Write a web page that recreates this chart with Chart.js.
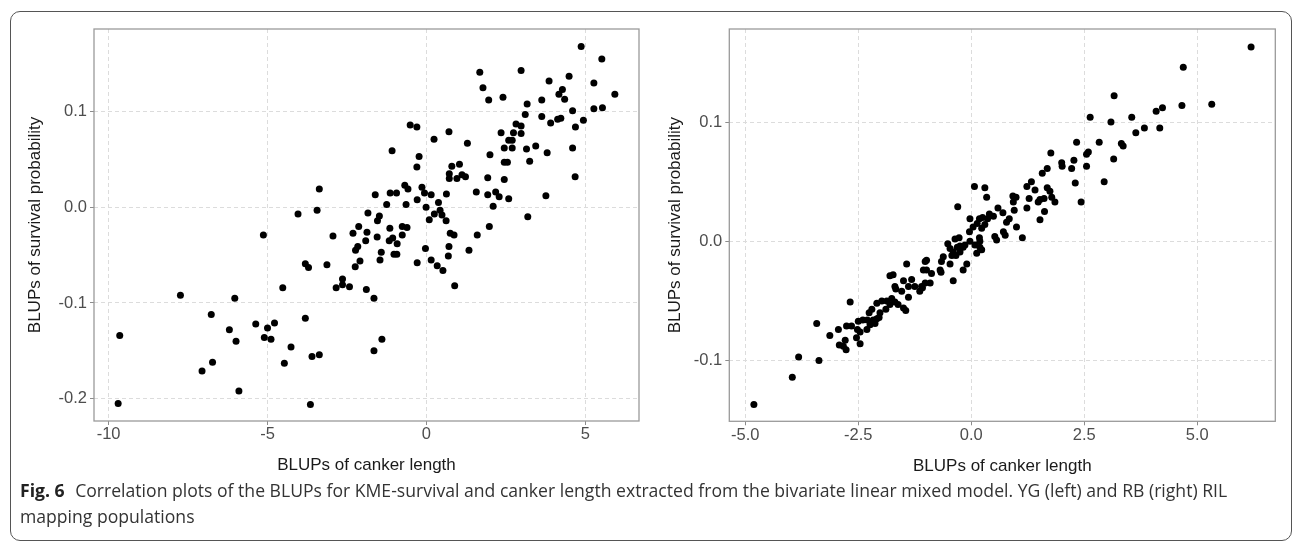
<!DOCTYPE html>
<html>
<head>
<meta charset="utf-8">
<script src="https://cdn.jsdelivr.net/npm/chart.js@4.4.1/dist/chart.umd.min.js"></script>
<style>
  html, body { margin: 0; padding: 0; background: #fff; }
  body { width: 1293px; height: 542px; position: relative; overflow: hidden; }
  .frame {
    position: absolute; left: 10px; top: 11px; width: 1282px; height: 530px;
    box-sizing: border-box; border: 1.5px solid #555; border-radius: 10px;
  }
  canvas { position: absolute; top: 0; }
  #leftChart { left: 0; }
  #rightChart { left: 650px; }
  .caption {
    position: absolute; left: 20px; top: 477px; width: 1265px; white-space: nowrap;
    font-family: "Open Sans", sans-serif; font-size: 17.6px; line-height: 26px; color: #333;
  }
  .caption b { color: #222; margin-right: 6px; }
</style>
</head>
<body>
<div class="frame"></div>
<canvas id="leftChart" width="650" height="480"></canvas>
<canvas id="rightChart" width="643" height="480"></canvas>
<div class="caption"><b>Fig. 6</b> Correlation plots of the BLUPs for KME-survival and canker length extracted from the bivariate linear mixed model. YG (left) and RB (right) RIL<br>mapping populations</div>

<script>
// YG population (left panel)
const ygCanker = [-3.37,-4.04,-3.44,-5.13,-3.81,-3.71,-3.13,-7.74,-6.03,-4.52,-6.77,-9.65,-6.20,-5.37,-5.00,-4.78,-5.10,-4.89,-5.99,-3.81,
  -4.26,-3.60,-3.37,-6.73,-7.06,-4.47,-5.90,-9.70,-3.65,-2.24,-2.09,-1.46,-0.29,0.15,0.34,0.52,-2.84,-2.64,-2.64,-2.42,
  -1.89,-1.65,0.89,-1.40,-1.65,4.87,5.52,5.93,5.27,5.27,5.54,4.94,1.68,1.78,1.96,2.41,2.98,3.86,4.49,4.28,
  4.17,4.35,3.63,3.17,3.11,3.63,3.91,4.13,4.23,4.60,4.69,4.60,4.68,3.80,3.76,3.44,3.15,3.25,3.19,2.82,
  2.98,2.74,2.98,2.35,2.59,2.70,2.45,2.70,2.00,2.45,2.55,2.45,1.93,1.57,1.93,2.18,2.29,2.59,2.10,1.98,
  1.60,1.34,1.29,0.71,0.24,-0.51,-0.30,-1.08,-0.23,-0.30,0.80,1.04,0.72,0.72,0.96,1.12,1.23,0.63,0.38,0.15,
  -0.06,-0.14,-0.29,-0.01,0.25,0.43,0.49,0.62,0.09,0.75,0.87,0.71,0.69,-0.03,-0.68,-0.58,-0.64,-0.94,-1.14,-1.25,
  -1.61,-1.84,-1.48,-1.54,-1.15,-0.76,-0.61,-0.76,-1.06,-1.17,-0.92,-1.55,-1.87,-2.13,-2.31,-1.91,-2.16,-2.23,-1.42,-1.02,
  -0.93,-2.94];
const ygSurvival = [0.019,-0.007,-0.003,-0.029,-0.059,-0.063,-0.060,-0.092,-0.095,-0.084,-0.112,-0.134,-0.128,-0.122,-0.126,-0.121,-0.136,-0.138,-0.140,-0.116,
  -0.146,-0.156,-0.154,-0.162,-0.171,-0.163,-0.192,-0.205,-0.206,-0.062,-0.056,-0.055,-0.058,-0.055,-0.061,-0.066,-0.084,-0.075,-0.081,-0.083,
  -0.086,-0.095,-0.082,-0.138,-0.150,0.168,0.155,0.118,0.130,0.103,0.104,0.091,0.141,0.125,0.112,0.115,0.143,0.132,0.137,0.123,
  0.118,0.113,0.112,0.108,0.097,0.095,0.088,0.092,0.093,0.101,0.084,0.062,0.032,0.057,0.012,0.064,0.061,0.048,-0.010,0.087,
  0.085,0.078,0.077,0.078,0.070,0.070,0.062,0.062,0.055,0.047,0.047,0.029,0.031,0.016,0.013,0.016,0.011,0.009,0.001,-0.020,
  -0.029,-0.045,0.067,0.079,0.071,0.086,0.084,0.059,0.053,0.042,0.043,0.045,0.035,0.030,0.030,0.034,0.032,0.014,0.005,0.013,
  0.015,0.021,0.008,0.000,-0.007,-0.003,-0.008,-0.014,-0.013,-0.027,-0.029,-0.041,-0.051,-0.043,0.023,0.019,0.003,0.015,0.015,0.003,
  0.013,-0.006,-0.009,-0.014,-0.022,-0.020,-0.021,-0.029,-0.032,-0.035,-0.038,-0.031,-0.026,-0.020,-0.027,-0.035,-0.041,-0.045,-0.047,-0.049,
  -0.049,-0.030];
const ygXTicks = [-10, -5, 0, 5];
const ygXLabels = ['-10', '-5', '0', '5'];
const ygYTicks = [-0.2, -0.1, 0.0, 0.1];
const ygYLabels = ['-0.2', '-0.1', '0.0', '0.1'];
const ygXRange = [-10.46, 6.69];
const ygYRange = [-0.2233, 0.1863];

// RB population (right panel)
const rbCanker = [6.19,4.69,4.66,5.32,3.16,2.63,3.09,3.55,4.09,4.23,3.64,3.83,4.17,2.83,2.33,3.32,3.36,2.55,2.59,1.76,
  2.27,2.00,2.01,2.22,2.55,3.15,1.68,1.57,2.30,2.94,2.43,1.33,1.23,1.41,1.68,1.74,1.78,1.85,1.52,1.48,
  1.61,1.28,1.23,1.62,1.52,0.92,0.99,0.93,0.95,0.84,0.78,1.00,1.13,0.07,0.30,0.34,-0.30,0.59,-0.03,0.18,
  0.25,0.40,0.49,0.70,0.13,0.30,0.36,0.04,0.23,-0.04,0.52,0.56,0.71,0.75,-0.27,-0.36,0.18,0.19,0.08,-0.03,
  -0.14,-0.25,-0.18,0.19,0.23,0.12,-0.52,-0.47,-0.31,-0.40,-0.25,-0.34,-0.43,-0.62,-0.66,-0.47,-0.10,-0.18,-0.69,-0.99,
  -0.99,-1.06,-0.88,-1.43,-1.73,-1.69,-1.50,-1.32,-1.39,-1.25,-1.10,-1.02,-0.91,-0.40,-1.80,-1.67,-1.54,-1.39,-2.68,-2.09,
  -1.98,-1.87,-1.76,-1.69,-1.80,-1.62,-1.89,-1.50,-1.45,-2.20,-2.26,-2.02,-2.09,-2.04,-2.17,-2.30,-2.40,-2.50,-2.24,-2.13,
  -3.42,-2.76,-2.65,-2.94,-3.13,-2.79,-2.52,-2.46,-2.54,-2.31,-2.92,-2.83,-2.46,-4.81,-3.96,-3.82,-3.37,-2.77,-1.14,-1.08,
  -0.67,-1.02];
const rbSurvival = [0.163,0.146,0.114,0.115,0.122,0.104,0.100,0.104,0.109,0.112,0.091,0.095,0.095,0.083,0.083,0.082,0.080,0.073,0.075,0.074,
  0.068,0.066,0.063,0.061,0.063,0.069,0.061,0.057,0.049,0.050,0.033,0.050,0.046,0.043,0.045,0.042,0.037,0.033,0.035,0.033,
  0.036,0.036,0.028,0.025,0.018,0.038,0.037,0.033,0.026,0.019,0.016,0.012,0.003,0.046,0.045,0.037,0.029,0.028,0.019,0.019,
  0.020,0.023,0.021,0.024,0.015,0.014,0.019,0.012,0.011,0.008,0.004,0.001,0.008,0.005,0.003,0.002,0.003,0.000,-0.003,0.000,
  -0.003,-0.004,-0.005,-0.005,-0.007,-0.010,-0.002,-0.006,-0.005,-0.009,-0.009,-0.012,-0.012,-0.013,-0.017,-0.019,-0.019,-0.024,-0.024,-0.016,
  -0.024,-0.024,-0.027,-0.019,-0.028,-0.038,-0.033,-0.032,-0.038,-0.038,-0.038,-0.035,-0.035,-0.033,-0.029,-0.040,-0.042,-0.047,-0.051,-0.052,
  -0.050,-0.050,-0.048,-0.051,-0.053,-0.053,-0.057,-0.056,-0.058,-0.057,-0.060,-0.060,-0.065,-0.064,-0.066,-0.066,-0.066,-0.067,-0.070,-0.069,
  -0.069,-0.071,-0.071,-0.074,-0.079,-0.083,-0.074,-0.076,-0.081,-0.074,-0.087,-0.088,-0.086,-0.137,-0.114,-0.097,-0.100,-0.091,-0.042,-0.039,
  -0.026,-0.017];
const rbXTicks = [-5, -2.5, 0, 2.5, 5];
const rbXLabels = ['-5.0', '-2.5', '0.0', '2.5', '5.0'];
const rbYTicks = [-0.1, 0.0, 0.1];
const rbYLabels = ['-0.1', '0.0', '0.1'];
const rbXRange = [-5.354, 6.726];
const rbYRange = [-0.151, 0.1781];

const xTitle = 'BLUPs of canker length';
const yTitle = 'BLUPs of survival probability';

// ggplot-style panel border drawn round the plotting area
const panelBorder = {
  id: 'panelBorder',
  afterDraw(chart) {
    const { ctx, chartArea: a } = chart;
    ctx.save();
    ctx.strokeStyle = '#9a9a9a';
    ctx.lineWidth = 1.3;
    ctx.strokeRect(a.left, a.top, a.right - a.left, a.bottom - a.top);
    ctx.restore();
  }
};

function axisOpts(range, ticks, labels, title, fitSize, isX) {
  return {
    type: 'linear',
    min: range[0],
    max: range[1],
    afterBuildTicks: (s) => { s.ticks = ticks.map(v => ({ value: v })); },
    afterFit: (s) => { if (isX) s.height = fitSize; else s.width = fitSize; },
    ticks: {
      autoSkip: false,
      maxRotation: 0,
      padding: isX ? 0 : 3,
      color: '#4d4d4d',
      font: { family: 'Liberation Sans', size: 16.5 },
      callback: (v, i) => labels[i],
    },
    grid: {
      color: '#dcdcdc',
      lineWidth: 1,
      tickLength: 4,
      tickColor: '#8c8c8c',
      tickWidth: 1,
    },
    border: { display: false, dash: [4, 3] },
    title: {
      display: true,
      text: title,
      color: '#1a1a1a',
      padding: 0,
      font: { family: 'Liberation Sans', size: 17 },
    },
  };
}

function drawPanel(id, xs, ys, opt) {
  const ctx = document.getElementById(id).getContext('2d');
  return new Chart(ctx, {
    type: 'scatter',
    data: {
      datasets: [{
        data: xs.map((x, i) => ({ x: x, y: ys[i] })),
        backgroundColor: '#000',
        borderWidth: 0,
        pointRadius: 3.5,
        pointHoverRadius: 3.5,
      }]
    },
    options: {
      responsive: false,
      devicePixelRatio: 1,
      animation: false,
      events: [],
      layout: { padding: opt.padding },
      plugins: { legend: { display: false }, tooltip: { enabled: false } },
      scales: {
        x: axisOpts(opt.xRange, opt.xTicks, opt.xLabels, xTitle, 55, true),
        y: axisOpts(opt.yRange, opt.yTicks, opt.yLabels, yTitle, opt.yWidth, false),
      }
    },
    plugins: [panelBorder]
  });
}

drawPanel('leftChart', ygCanker, ygSurvival, {
  padding: { left: 25, top: 29, right: 11, bottom: 4 },
  yWidth: 69,
  xRange: ygXRange, yRange: ygYRange,
  xTicks: ygXTicks, xLabels: ygXLabels,
  yTicks: ygYTicks, yLabels: ygYLabels,
});

drawPanel('rightChart', rbCanker, rbSurvival, {
  padding: { left: 15, top: 29, right: 17.7, bottom: 3.7 },
  yWidth: 64.3,
  xRange: rbXRange, yRange: rbYRange,
  xTicks: rbXTicks, xLabels: rbXLabels,
  yTicks: rbYTicks, yLabels: rbYLabels,
});
</script>
</body>
</html>
